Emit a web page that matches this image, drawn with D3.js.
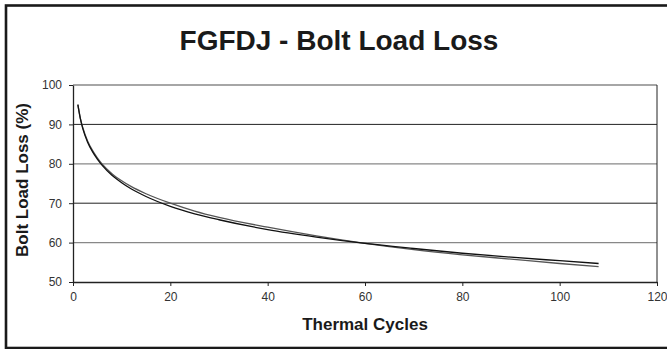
<!DOCTYPE html>
<html>
<head>
<meta charset="utf-8">
<script src="https://cdn.jsdelivr.net/npm/d3@7/dist/d3.min.js"></script>
<style>
  html, body { margin: 0; padding: 0; background: #fff; }
  svg { display: block; font-family: "Liberation Sans", Arial, sans-serif; }
</style>
</head>
<body>
<svg id="chart" width="667" height="349"></svg>
<script>
const title = "FGFDJ - Bolt Load Loss";
const xTitle = "Thermal Cycles";
const yTitle = "Bolt Load Loss (%)";
const xTicks = [0, 20, 40, 60, 80, 100, 120];
const yTicks = [50, 60, 70, 80, 90, 100];

const cycles = [1, 1.5, 2, 3, 4, 5, 6, 8, 10, 12, 15, 20, 25, 30, 40, 50, 60, 70, 80, 90, 100, 108];
const seriesA = [95, 91.5, 89.0, 85.5, 83.1, 81.2, 79.6, 77.1, 75.2, 73.6, 71.7, 69.2, 67.3, 65.8, 63.3, 61.4, 59.8, 58.5, 57.3, 56.3, 55.4, 54.7];
const seriesB = [95, 91.6, 89.2, 85.8, 83.4, 81.5, 79.9, 77.5, 75.7, 74.2, 72.4, 70.0, 68.0, 66.4, 63.9, 61.7, 59.8, 58.2, 56.9, 55.8, 54.7, 53.9];

const svg = d3.select("#chart");
const L = 73, R = 657, T = 85, B = 282;

const x = d3.scaleLinear().domain([0, 120]).range([L, R]);
const y = d3.scaleLinear().domain([50, 100]).range([B, T]);

// outer frame
svg.append("rect")
  .attr("x", 6).attr("y", 5.5).attr("width", 670).attr("height", 342.5)
  .attr("fill", "none").attr("stroke", "#1a1a1a").attr("stroke-width", 2.6);

// title
svg.append("text")
  .attr("x", 339).attr("y", 49.5)
  .attr("text-anchor", "middle")
  .attr("font-size", 28).attr("font-weight", "bold").attr("fill", "#1a1a1a")
  .text(title);

// gridlines
svg.append("g").selectAll("line")
  .data(yTicks.filter(d => d > 50))
  .join("line")
  .attr("x1", L).attr("x2", R)
  .attr("y1", d => y(d)).attr("y2", d => y(d))
  .attr("stroke", d => (d === 90 || d === 70 ? "#222" : "#888"))
  .attr("stroke-width", d => (d === 90 || d === 70 ? 1 : 1.3));

// right plot border
svg.append("line")
  .attr("x1", R).attr("x2", R).attr("y1", T).attr("y2", B)
  .attr("stroke", "#222").attr("stroke-width", 1);

// axes
const xAxis = d3.axisBottom(x).tickValues(xTicks).tickSize(4).tickSizeOuter(0).tickPadding(6);
const yAxis = d3.axisLeft(y).tickValues(yTicks).tickSize(4).tickSizeOuter(0).tickPadding(7);

const gx = svg.append("g").attr("transform", `translate(0,${B})`).call(xAxis);
const gy = svg.append("g").attr("transform", `translate(${L},0)`).call(yAxis);

[gx, gy].forEach(g => {
  g.select(".domain").attr("stroke", "#222").attr("stroke-width", 1.3);
  g.selectAll(".tick line").attr("stroke", "#222");
  g.selectAll(".tick text")
    .attr("font-size", 12).attr("fill", "#333")
    .attr("font-family", "'Liberation Sans', Arial, sans-serif");
});

// curves
const line = d3.line().curve(d3.curveMonotoneX);
const ptsA = cycles.map((c, i) => [x(c), y(seriesA[i])]);
const ptsB = cycles.map((c, i) => [x(c), y(seriesB[i])]);

svg.append("path").attr("d", line(ptsB))
  .attr("fill", "none").attr("stroke", "#555").attr("stroke-width", 1.3);
svg.append("path").attr("d", line(ptsA))
  .attr("fill", "none").attr("stroke", "#111").attr("stroke-width", 1.3);

// axis titles
svg.append("text")
  .attr("x", 365).attr("y", 330)
  .attr("text-anchor", "middle")
  .attr("font-size", 17).attr("font-weight", "bold").attr("fill", "#1a1a1a")
  .text(xTitle);

svg.append("text")
  .attr("transform", "translate(28,180) rotate(-90)")
  .attr("text-anchor", "middle")
  .attr("font-size", 17).attr("font-weight", "bold").attr("fill", "#1a1a1a")
  .text(yTitle);
</script>
</body>
</html>
